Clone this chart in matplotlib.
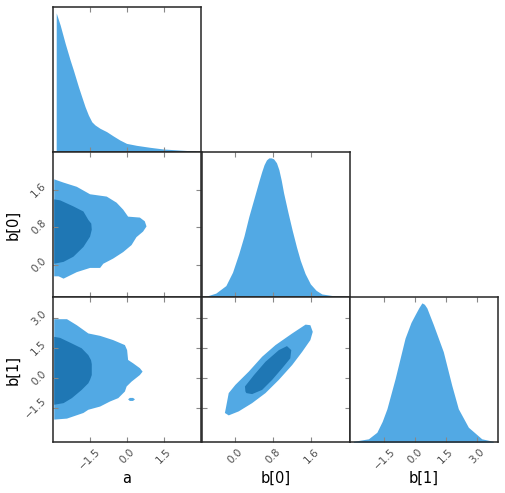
import numpy as np
import matplotlib
matplotlib.use("Agg")
import matplotlib.pyplot as plt

# ---------------- data ----------------
var_names = ["a", "b[0]", "b[1]"]
lims = {"a": (-3.03, 3.02), "b[0]": (-0.70, 2.41), "b[1]": (-3.19, 4.03)}
ticks = {"a": [-1.5, 0.0, 1.5], "b[0]": [0.0, 0.8, 1.6], "b[1]": [-1.5, 0.0, 1.5, 3.0]}
tick_labels = {"a": ["−1.5", "0.0", "1.5"], "b[0]": ["0.0", "0.8", "1.6"],
               "b[1]": ["−1.5", "0.0", "1.5", "3.0"]}

# marginal densities (normalised to peak = 1)
a_x = [-2.88, -2.878, -2.716, -2.513, -2.31, -2.18, -1.973, -1.838, -1.703, -1.568, -1.43,
       -1.297, -1.094, -0.823, -0.553, -0.284, -0.014, 0.39, 0.932, 1.47, 2.146, 2.82]
a_d = [0.0, 1.0, 0.912, 0.781, 0.661, 0.59, 0.47, 0.398, 0.327, 0.267, 0.219,
       0.196, 0.172, 0.148, 0.117, 0.088, 0.064, 0.050, 0.036, 0.024, 0.016, 0.009]

b0_x = [-0.61, -0.40, -0.19, -0.05, 0.08, 0.19, 0.29, 0.40, 0.50, 0.56, 0.61, 0.66, 0.71,
        0.76, 0.81, 0.87, 0.92, 0.97, 1.02, 1.11, 1.20, 1.29, 1.37, 1.47, 1.58, 1.70,
        1.82, 2.05, 2.31]
b0_d = [0.007, 0.030, 0.084, 0.18, 0.313, 0.44, 0.578, 0.71, 0.831, 0.90, 0.951, 0.985, 1.0,
        1.0, 0.993, 0.965, 0.916, 0.84, 0.748, 0.61, 0.48, 0.36, 0.264, 0.17, 0.096, 0.05,
        0.024, 0.012, 0.007]

b1_x = [-3.00, -2.27, -1.86, -1.60, -1.37, -0.97, -0.49, -0.20, 0.00, 0.18, 0.33, 0.45, 0.57,
        0.89, 1.37, 1.78, 2.10, 2.59, 3.24, 3.80]
b1_d = [0.007, 0.025, 0.072, 0.15, 0.241, 0.458, 0.747, 0.86, 0.916, 0.965, 1.0, 0.99, 0.964,
        0.843, 0.65, 0.41, 0.241, 0.108, 0.025, 0.007]

# 2-D contour regions (outer = light, inner = dark)
ab0_outer_a = [-2.96, -2.58, -2.04, -1.50, -0.82, -0.42, -0.15, 0.05, 0.53, 0.73, 0.80, 0.66,
               0.39, 0.19, -0.15, -0.56, -0.96, -1.09, -1.50, -2.04, -2.58, -2.78, -2.96]
ab0_outer_b = [1.83, 1.76, 1.67, 1.51, 1.46, 1.33, 1.18, 1.03, 1.01, 0.93, 0.82, 0.71,
               0.59, 0.42, 0.27, 0.13, 0.02, -0.07, -0.07, -0.16, -0.30, -0.25, -0.25]
ab0_inner_a = [-2.96, -2.72, -2.18, -1.77, -1.57, -1.45, -1.43, -1.50, -1.77, -2.18, -2.58, -2.96]
ab0_inner_b = [1.40, 1.38, 1.25, 1.14, 0.96, 0.88, 0.75, 0.60, 0.38, 0.17, 0.06, 0.02]

ab1_outer_a = [-2.96, -2.44, -2.04, -1.57, -1.09, -0.56, -0.08, 0.01, 0.05, 0.26, 0.53, 0.64,
               0.53, 0.19, -0.01, -0.08, -0.35, -0.69, -1.09, -1.57, -1.77, -2.44, -2.96]
ab1_outer_b = [2.94, 2.94, 2.64, 2.23, 2.11, 1.90, 1.65, 1.40, 0.91, 0.74, 0.50, 0.33,
               0.16, -0.17, -0.41, -0.66, -0.99, -1.16, -1.41, -1.57, -1.73, -2.01, -2.06]
ab1_island_a = [0.05, 0.12, 0.25, 0.33, 0.25, 0.12]
ab1_island_b = [-1.05, -0.98, -0.98, -1.05, -1.13, -1.13]
ab1_inner_a = [-2.96, -2.72, -2.24, -1.84, -1.57, -1.46, -1.43, -1.43, -1.50, -1.57, -1.84,
               -2.24, -2.58, -2.96]
ab1_inner_b = [2.06, 2.01, 1.73, 1.49, 1.15, 0.90, 0.70, 0.16, -0.08, -0.25, -0.58,
               -0.99, -1.24, -1.32]

b0b1_outer_b0 = [-0.19, -0.13, 0.01, 0.29, 0.57, 0.85, 1.20, 1.48, 1.58, 1.63, 1.58, 1.41,
                 1.20, 0.92, 0.64, 0.36, 0.08, -0.13, -0.21]
b0b1_outer_b1 = [-1.49, -0.74, -0.33, 0.33, 1.07, 1.65, 2.23, 2.67, 2.64, 2.31, 1.90, 1.32,
                 0.66, -0.08, -0.74, -1.24, -1.65, -1.85, -1.73]
b0b1_inner_b0 = [0.22, 0.21, 0.40, 0.64, 0.92, 1.09, 1.18, 1.16, 0.99, 0.78, 0.57, 0.36, 0.24]
b0b1_inner_b1 = [-0.66, -0.41, 0.16, 0.82, 1.40, 1.60, 1.40, 0.99, 0.50, -0.08, -0.58, -0.79, -0.74]

# ---------------- style ----------------
LIGHT = "#52a9e4"
DARK = "#1f77b4"
SPINE = "#262626"
TICKC = "#888888"
LABC = "#4d4d4d"

W, H = 505, 493
fig = plt.figure(figsize=(W / 100, H / 100), dpi=100)
col_left = [52.5, 201.5, 349.5]
row_top = [7.3, 152.3, 297.3]
aw, ah = 148.5, 145.0

marg = {"a": (a_x, a_d), "b[0]": (b0_x, b0_d), "b[1]": (b1_x, b1_d)}
pairs = {
    (1, 0): [(ab0_outer_a, ab0_outer_b, LIGHT), (ab0_inner_a, ab0_inner_b, DARK)],
    (2, 0): [(ab1_outer_a, ab1_outer_b, LIGHT), (ab1_island_a, ab1_island_b, LIGHT),
             (ab1_inner_a, ab1_inner_b, DARK)],
    (2, 1): [(b0b1_outer_b0, b0b1_outer_b1, LIGHT), (b0b1_inner_b0, b0b1_inner_b1, DARK)],
}

for i in range(3):
    for j in range(i + 1):
        ax = fig.add_axes([col_left[j] / W, 1 - (row_top[i] + ah) / H, aw / W, ah / H])
        xv = var_names[j]
        ax.set_xlim(*lims[xv])
        if i == j:
            xs, ds = marg[xv]
            ax.fill_between(xs, 0, ds, color=LIGHT, linewidth=0)
            ax.set_ylim(0, 1.04)
            ax.set_yticks([])
        else:
            yv = var_names[i]
            for px, py, c in pairs[(i, j)]:
                ax.fill(px, py, color=c, linewidth=0)
            ax.set_ylim(*lims[yv])
            ax.set_yticks(ticks[yv])
            if j == 0:
                ax.set_yticklabels(tick_labels[yv], rotation=45, va="center")
                ax.set_ylabel(yv, fontsize=10.5)
                ax.yaxis.set_label_coords(-0.215, 0.5)
            else:
                ax.set_yticklabels([])
        ax.set_xticks(ticks[xv])
        if i == 2:
            ax.set_xticklabels(tick_labels[xv], rotation=45)
            ax.set_xlabel(xv, fontsize=10.5)
            ax.xaxis.set_label_coords(0.5, -0.195)
        else:
            ax.set_xticklabels([])
        ax.tick_params(direction="in", length=3.5, width=0.8, color=TICKC,
                       top=True, right=(i != j), labelsize=7.5, labelcolor=LABC, pad=3)
        for s in ax.spines.values():
            s.set_color(SPINE)
            s.set_linewidth(1.1)

fig.savefig("out.png", dpi=100)
